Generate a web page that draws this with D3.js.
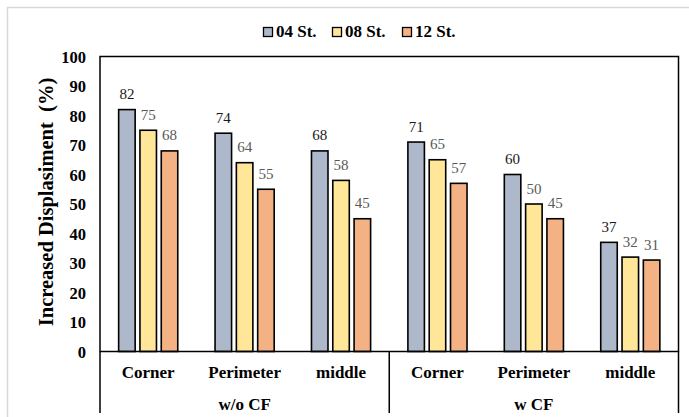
<!DOCTYPE html>
<html>
<head>
<meta charset="utf-8">
<script src="https://cdn.jsdelivr.net/npm/d3@7"></script>
<style>
  html, body { margin: 0; padding: 0; background: #fff; }
  svg { display: block; }
  svg text { font-family: "Liberation Serif", "Times New Roman", "DejaVu Serif", serif; }
</style>
</head>
<body>
<svg id="chart" width="689" height="417"></svg>
<script>
// Data
const groups = ["w/o CF", "w CF"];
const locations = ["Corner", "Perimeter", "middle"];
const seriesNames = ["04 St.", "08 St.", "12 St."];
const st04 = [82, 74, 68, 71, 60, 37];
const st08 = [75, 64, 58, 65, 50, 32];
const st12 = [68, 55, 45, 57, 45, 31];
const yTicks = [0, 10, 20, 30, 40, 50, 60, 70, 80, 90, 100];

const seriesValues = [st04, st08, st12];
const seriesColors = ["#ADB9CA", "#FFE699", "#F4B183"];
const labelColors = ["#1a1a1a", "#595959", "#595959"];

const categories = [];
groups.forEach(g => locations.forEach(l => categories.push({ key: g + "|" + l, group: g, loc: l })));

const svg = d3.select("#chart");
const W = 689, H = 417;
const plot = { left: 100, right: 678.5, top: 56.5, bottom: 351.5 };

// Outer chart frame (left and top edges visible)
svg.append("path")
  .attr("d", `M7.5,${H} V7.5 H${W}`)
  .attr("fill", "none").attr("stroke", "#d9d9d9").attr("stroke-width", 1.5);

const x = d3.scaleBand()
  .domain(categories.map(c => c.key))
  .range([plot.left, plot.right])
  .paddingInner(0).paddingOuter(0);

const y = d3.scaleLinear().domain([0, 100]).range([plot.bottom, plot.top]);

const xs = d3.scaleBand()
  .domain(d3.range(seriesNames.length))
  .range([0, x.bandwidth()])
  .paddingInner(0.225)
  .paddingOuter(0.875);

// Bars and value labels
seriesValues.forEach((vals, si) => {
  svg.append("g").selectAll("rect")
    .data(vals)
    .join("rect")
    .attr("x", (d, i) => x(categories[i].key) + xs(si))
    .attr("y", d => y(d))
    .attr("width", xs.bandwidth())
    .attr("height", d => y(0) - y(d))
    .attr("fill", seriesColors[si])
    .attr("stroke", "#000")
    .attr("stroke-width", 1.6);

  svg.append("g").selectAll("text")
    .data(vals)
    .join("text")
    .attr("x", (d, i) => x(categories[i].key) + xs(si) + xs.bandwidth() / 2)
    .attr("y", d => y(d) - 10.5)
    .attr("text-anchor", "middle")
    .style("font-size", "15px")
    .attr("fill", labelColors[si])
    .text(d => d);
});

// Plot frame
svg.append("rect")
  .attr("x", plot.left).attr("y", plot.top)
  .attr("width", plot.right - plot.left).attr("height", plot.bottom - plot.top)
  .attr("fill", "none").attr("stroke", "#000").attr("stroke-width", 1.5);

// Y axis
const yAxis = d3.axisLeft(y).tickValues(yTicks).tickSize(0).tickPadding(14);
const gy = svg.append("g").attr("transform", `translate(${plot.left},0)`).call(yAxis);
gy.attr("font-family", null).attr("font-size", null);
gy.select(".domain").remove();
gy.selectAll("text")
  .attr("dy", "0.36em")
  .style("font-size", "16.5px")
  .style("font-weight", "bold")
  .attr("fill", "#000");

svg.append("text")
  .attr("transform", `translate(53,202) rotate(-90)`)
  .attr("text-anchor", "middle")
  .style("font-size", "20.5px")
  .style("font-weight", "bold")
  .attr("xml:space", "preserve")
  .text("Increased Displasiment  (%)");

// Category axis: two levels
const catAxis = d3.axisBottom(x).tickSize(0).tickPadding(26.5)
  .tickFormat(k => categories.find(c => c.key === k).loc);
const gx = svg.append("g").attr("transform", `translate(0,${plot.bottom})`).call(catAxis);
gx.attr("font-family", null).attr("font-size", null);
gx.select(".domain").remove();
gx.selectAll("text")
  .attr("dy", null)
  .style("font-size", "17px")
  .style("font-weight", "bold")
  .attr("fill", "#000");

const groupX = d3.scaleBand().domain(groups).range([plot.left, plot.right]);
svg.append("g").selectAll("line")
  .data([plot.left, groupX(groups[1]), plot.right])
  .join("line")
  .attr("x1", d => d).attr("x2", d => d)
  .attr("y1", plot.bottom).attr("y2", 413)
  .attr("stroke", "#000").attr("stroke-width", 1.5);

svg.append("g").selectAll("text")
  .data(groups)
  .join("text")
  .attr("x", d => groupX(d) + groupX.bandwidth() / 2)
  .attr("y", 410)
  .attr("text-anchor", "middle")
  .style("font-size", "17px")
  .style("font-weight", "bold")
  .text(d => d);

// Legend
const legendX = [263, 332, 402];
const lg = svg.append("g");
seriesNames.forEach((name, i) => {
  lg.append("rect")
    .attr("x", legendX[i] + 0.5).attr("y", 27.5)
    .attr("width", 9).attr("height", 9)
    .attr("fill", seriesColors[i])
    .attr("stroke", "#000").attr("stroke-width", 1.3);
  lg.append("text")
    .attr("x", legendX[i] + 13).attr("y", 37)
    .style("font-size", "17px")
    .style("font-weight", "bold")
    .text(name);
});
</script>
</body>
</html>
